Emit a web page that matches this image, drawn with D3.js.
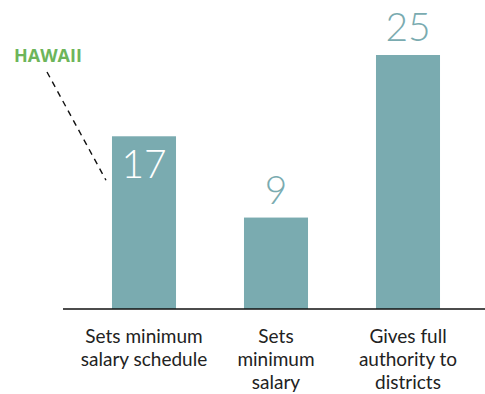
<!DOCTYPE html>
<html>
<head>
<meta charset="utf-8">
<script src="https://cdn.jsdelivr.net/npm/d3@7"></script>
<style>
  html, body { margin: 0; padding: 0; background: #fff; }
  svg { display: block; }
</style>
</head>
<body>
<svg id="chart" width="485" height="394"></svg>
<script>
// Categories (each label split into its printed lines) and their counts
const categories = ["Sets minimum salary schedule", "Sets minimum salary", "Gives full authority to districts"];
const categoryLines = [
  ["Sets minimum", "salary schedule"],
  ["Sets", "minimum", "salary"],
  ["Gives full", "authority to", "districts"]
];
const values = [17, 9, 25];
const callout = "HAWAII";

const W = 485, H = 394;
const svg = d3.select("#chart");
const barColor = "#7aabb0";

const x = d3.scaleBand()
  .domain(categories)
  .range([78, 474])
  .paddingInner(0.515)
  .paddingOuter(0.2575);

const y = d3.scaleLinear().domain([0, 25]).range([309, 55]);

// bars
svg.selectAll("rect.bar")
  .data(values)
  .join("rect")
  .attr("class", "bar")
  .attr("x", (d, i) => x(categories[i]))
  .attr("width", x.bandwidth())
  .attr("y", d => y(d))
  .attr("height", d => y(0) - y(d))
  .attr("fill", barColor);

// baseline
svg.append("line")
  .attr("x1", 63).attr("x2", W)
  .attr("y1", y(0)).attr("y2", y(0))
  .attr("stroke", "#111").attr("stroke-width", 1.3);

// value labels: first one sits inside its bar in white, the others above
svg.selectAll("text.val")
  .data(values)
  .join("text")
  .attr("class", "val")
  .attr("x", (d, i) => x(categories[i]) + x.bandwidth() / 2)
  .attr("y", (d, i) => i === 0 ? y(d) + 42 : y(d) - 14)
  .attr("text-anchor", "middle")
  .attr("font-family", "Lato, 'Open Sans', sans-serif")
  .attr("font-weight", 300)
  .attr("font-size", 39)
  .attr("fill", (d, i) => i === 0 ? "#fff" : barColor)
  .text(d => d);

// category labels
const lab = svg.selectAll("text.cat")
  .data(categoryLines)
  .join("text")
  .attr("class", "cat")
  .attr("text-anchor", "middle")
  .attr("font-family", "Lato, 'Open Sans', sans-serif")
  .attr("font-size", 19)
  .attr("fill", "#222");
lab.selectAll("tspan")
  .data((d, i) => d.map(t => ({ t, i })))
  .join("tspan")
  .attr("x", d => x(categories[d.i]) + x.bandwidth() / 2)
  .attr("y", (d, j) => 343 + j * 23)
  .text(d => d.t);

// callout with dashed leader line
svg.append("text")
  .attr("x", 14).attr("y", 62)
  .attr("font-family", "'Open Sans', sans-serif")
  .attr("font-weight", 700)
  .attr("font-size", 18)
  .attr("fill", "#6db55a")
  .text(callout);

svg.append("line")
  .attr("x1", 47).attr("y1", 72)
  .attr("x2", x(categories[0]) - 6).attr("y2", y(values[0]) + 44)
  .attr("stroke", "#111")
  .attr("stroke-width", 1.4)
  .attr("stroke-dasharray", "6,5");
</script>
</body>
</html>
